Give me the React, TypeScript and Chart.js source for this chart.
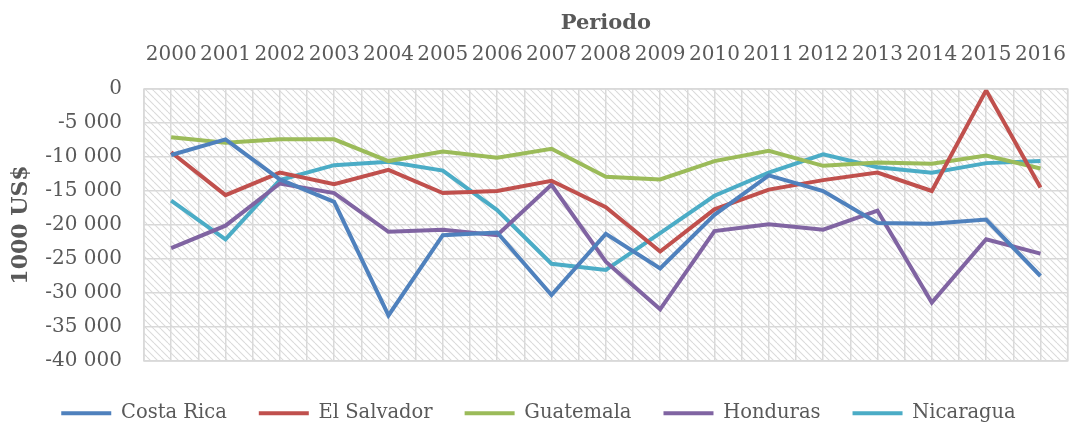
import React, { useEffect, useRef } from "react";
import { Chart, registerables } from "chart.js";

Chart.register(...registerables);

const years = ["2000", "2001", "2002", "2003", "2004", "2005", "2006", "2007", "2008", "2009", "2010", "2011", "2012", "2013", "2014", "2015", "2016"];
const costaRica = [-9700, -7400, -13300, -16600, -33300, -21500, -21100, -30300, -21300, -26400, -18500, -12700, -15000, -19700, -19800, -19200, -27500];
const elSalvador = [-9300, -15600, -12300, -14000, -11900, -15300, -15000, -13500, -17400, -23900, -17700, -14800, -13400, -12300, -15000, -200, -14500];
const guatemala = [-7100, -7900, -7400, -7400, -10600, -9200, -10100, -8800, -12900, -13300, -10600, -9100, -11300, -10800, -11000, -9800, -11700];
const honduras = [-23400, -20100, -13900, -15300, -21000, -20700, -21500, -14100, -25400, -32400, -20900, -19900, -20700, -17900, -31400, -22100, -24200];
const nicaragua = [-16400, -22100, -13400, -11200, -10700, -12000, -17800, -25700, -26600, -21200, -15700, -12300, -9600, -11500, -12300, -10900, -10600];

const seriesNames = ["Costa Rica", "El Salvador", "Guatemala", "Honduras", "Nicaragua"];
const seriesColors = ["#4F81BD", "#C0504D", "#9BBB59", "#8064A2", "#4BACC6"];
const seriesValues = [costaRica, elSalvador, guatemala, honduras, nicaragua];

const yMin = -40000;
const yMax = 0;
const yStep = 5000;

const FONT = "'DejaVu Serif', serif";
const TEXT = "#595959";
const GRID = "#d9d9d9";

function fmt(v: number): string {
  const s = Math.abs(v).toString().replace(/\B(?=(\d{3})+(?!\d))/g, " ");
  return (v < 0 ? "-" : "") + s;
}

export default function App() {
  const ref = useRef<HTMLCanvasElement>(null);
  useEffect(() => {
    document.body.style.margin = "0";
    Chart.defaults.font.family = FONT;
    const canvas = ref.current!;
    const tile = document.createElement("canvas");
    tile.width = 7;
    tile.height = 7;
    const tc = tile.getContext("2d")!;
    tc.fillStyle = "#ffffff";
    tc.fillRect(0, 0, 7, 7);
    tc.strokeStyle = "rgba(0,0,0,0.15)";
    tc.lineWidth = 1.1;
    for (const k of [-7, 0, 7]) {
      tc.beginPath();
      tc.moveTo(k, 0);
      tc.lineTo(k + 7, 7);
      tc.stroke();
    }
    const bgPlugin = {
      id: "hatchBg",
      beforeDraw(chart: any) {
        const { ctx, chartArea: a } = chart;
        const pat = ctx.createPattern(tile, "repeat");
        ctx.save();
        ctx.fillStyle = pat;
        ctx.fillRect(a.left, a.top, a.right - a.left, a.bottom - a.top);
        ctx.restore();
      },
      afterDatasetsDraw(chart: any) {
        const { ctx, chartArea: a } = chart;
        ctx.save();
        ctx.strokeStyle = GRID;
        ctx.lineWidth = 1.5;
        ctx.strokeRect(a.left, a.top, a.right - a.left, a.bottom - a.top);
        ctx.restore();
      },
    };

    const chart = new Chart(canvas, {
      type: "line",
      data: {
        labels: years,
        datasets: seriesNames.map((n, i) => ({
          label: n,
          data: seriesValues[i],
          borderColor: seriesColors[i],
          backgroundColor: seriesColors[i],
          borderWidth: 4,
          pointRadius: 0,
          tension: 0,
          fill: false,
          xAxisID: "x",
          yAxisID: "y",
        })),
      },
      options: {
        responsive: false,
        animation: false,
        layout: { padding: { left: 0, right: 3, top: 0, bottom: -10 } },
        scales: {
          x: {
            type: "category",
            position: "top",
            offset: true,
            grid: { display: false },
            border: { display: false },
            ticks: {
              font: { family: FONT, size: 20 },
              color: TEXT,
              maxRotation: 0,
              autoSkip: false,
              padding: 14,
            },
            title: {
              display: true,
              text: "Periodo",
              font: { family: FONT, size: 21, weight: "bold" },
              color: TEXT,
              padding: { top: 11, bottom: 0 },
            },
            afterFit(s: any) {
              s.height = 89;
            },
          },
          x2: {
            type: "linear",
            position: "bottom",
            min: -0.5,
            max: 16.5,
            grid: { color: GRID, lineWidth: 1.5, drawTicks: false },
            border: { display: false },
            ticks: { display: false, stepSize: 0.5, maxTicksLimit: 100 },
            afterFit(s: any) {
              s.height = 10.5;
            },
          },
          y: {
            type: "linear",
            min: yMin,
            max: yMax,
            grid: { color: GRID, lineWidth: 1.5, drawTicks: false },
            border: { display: false },
            ticks: {
              stepSize: yStep,
              font: { family: FONT, size: 20 },
              color: TEXT,
              padding: 22,
              callback: (v: any) => fmt(Number(v)),
            },
            title: {
              display: true,
              text: "1000 US$",
              font: { family: FONT, size: 22, weight: "bold" },
              color: TEXT,
              padding: { top: 8, bottom: 0 },
            },
            afterFit(s: any) {
              s.width = 144;
            },
          },
        },
        plugins: {
          legend: {
            position: "bottom",
            labels: {
              boxWidth: 50,
              boxHeight: 4,
              padding: 32,
              color: TEXT,
              font: { family: FONT, size: 19.5 },
              generateLabels: (c: any) =>
                Chart.defaults.plugins.legend.labels.generateLabels(c).map((l: any) => ({
                  ...l,
                  lineWidth: 0,
                  fillStyle: l.strokeStyle,
                })),
            },
          },
          tooltip: { enabled: false },
        },
      },
      plugins: [bgPlugin],
    });
    return () => chart.destroy();
  }, []);
  return (
    <div style={{ position: "absolute", left: 0, top: 0, width: 1080, height: 423 }}>
      <canvas ref={ref} width={1080} height={423} style={{ display: "block" }} />
    </div>
  );
}
